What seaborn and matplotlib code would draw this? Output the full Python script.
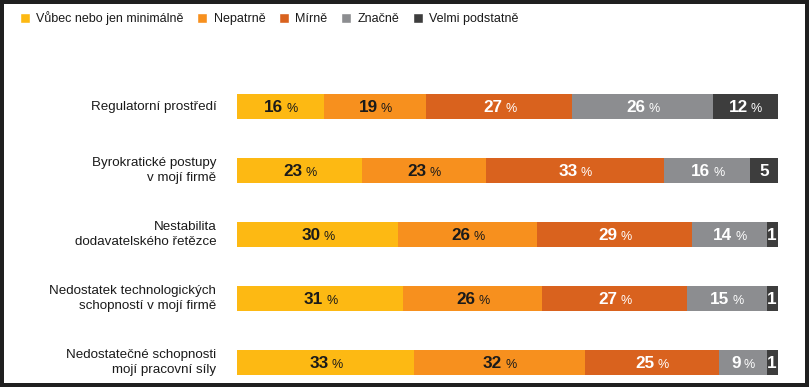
import numpy as np
import pandas as pd
import matplotlib.pyplot as plt
from matplotlib.patches import Patch
import seaborn as sns

categories = [
    "Regulatorní prostředí",
    "Byrokratické postupy\nv mojí firmě",
    "Nestabilita\ndodavatelského řetězce",
    "Nedostatek technologických\nschopností v mojí firmě",
    "Nedostatečné schopnosti\nmojí pracovní síly",
]
levels = ["Vůbec nebo jen minimálně", "Nepatrně", "Mírně", "Značně", "Velmi podstatně"]

# answer shares in %, one list per answer level, in category order
vubec = [16, 23, 30, 31, 33]
nepatrne = [19, 23, 26, 26, 32]
mirne = [27, 33, 29, 27, 25]
znacne = [26, 16, 14, 15, 9]
velmi = [12, 5, 1, 1, 1]

colors = ["#FDB913", "#F7901E", "#D9621E", "#8C8D90", "#3D3D3D"]
text_colors = ["#1a1a1a", "#1a1a1a", "white", "white", "white"]

sns.set_style("white")
plt.rcParams['font.family'] = ['Liberation Sans', 'DejaVu Sans']

values = np.array([vubec, nepatrne, mirne, znacne, velmi], dtype=float).T
# very small segments get a minimum visible width, every bar fills the row
widths = np.maximum(values, 2)
widths = widths / widths.sum(axis=1, keepdims=True) * 100
ends = widths.cumsum(axis=1)

df = pd.DataFrame({'category': categories})
for j in range(len(levels)):
    df[f'end_{j}'] = ends[:, j]

fig = plt.figure(figsize=(8.09, 3.87), dpi=100)
fig.patch.set_edgecolor('#1f1f1f')
fig.patch.set_linewidth(4.5)
ax = fig.add_axes([237.3 / 809, 0.0145, 540.2 / 809, 0.792])

# draw cumulative bars from the back so each level overlays the next
for j in reversed(range(len(levels))):
    sns.barplot(data=df, x=f'end_{j}', y='category', orient='h', color=colors[j],
                saturation=1, width=0.396, linewidth=0, ax=ax)

px = 0.72  # points per pixel at 100 dpi
for i in range(len(categories)):
    for j in range(len(levels)):
        v = int(values[i, j])
        center = ends[i, j] - widths[i, j] / 2
        tc = text_colors[j]
        if widths[i, j] >= 8:
            w = 9.65 * len(str(v))
            total = w + 3 + 10.7
            num_right = -total / 2 + w
            ax.annotate(str(v), xy=(center, i), xytext=(num_right * px, -5.65 * px),
                        textcoords='offset points', ha='right', va='baseline',
                        fontsize=12.3, fontweight='bold', color=tc)
            ax.annotate('%', xy=(center, i), xytext=((num_right + 3) * px, -5.65 * px),
                        textcoords='offset points', ha='left', va='baseline',
                        fontsize=9, color=tc)
        else:
            ax.annotate(str(v), xy=(center, i), xytext=(0, -5.65 * px),
                        textcoords='offset points', ha='center', va='baseline',
                        fontsize=12.3, fontweight='bold', color=tc)

# category labels, right aligned line by line
for i, cat in enumerate(categories):
    ax.annotate(cat, xy=(0, i), xycoords=('axes fraction', 'data'),
                xytext=(-21 * px, 0), textcoords='offset points',
                ha='right', va='center', multialignment='right',
                linespacing=1.3, fontsize=9.6, color='#1a1a1a')

ax.set_xlim(0, 100)
ax.set_ylim(4.3, -0.5)
ax.set_xlabel('')
ax.set_ylabel('')
ax.set_xticks([])
ax.set_yticks([])
sns.despine(ax=ax, left=True, bottom=True)

handles = [Patch(facecolor=c, label=l) for c, l in zip(colors, levels)]
fig.legend(handles=handles, loc='center left', bbox_to_anchor=(20 / 809, 0.953),
           ncol=5, frameon=False, fontsize=9, handlelength=0.8, handleheight=0.8,
           handletextpad=0.5, columnspacing=1.1, borderpad=0, borderaxespad=0,
           labelcolor='#1a1a1a')

fig.savefig('out.png', dpi=100)
